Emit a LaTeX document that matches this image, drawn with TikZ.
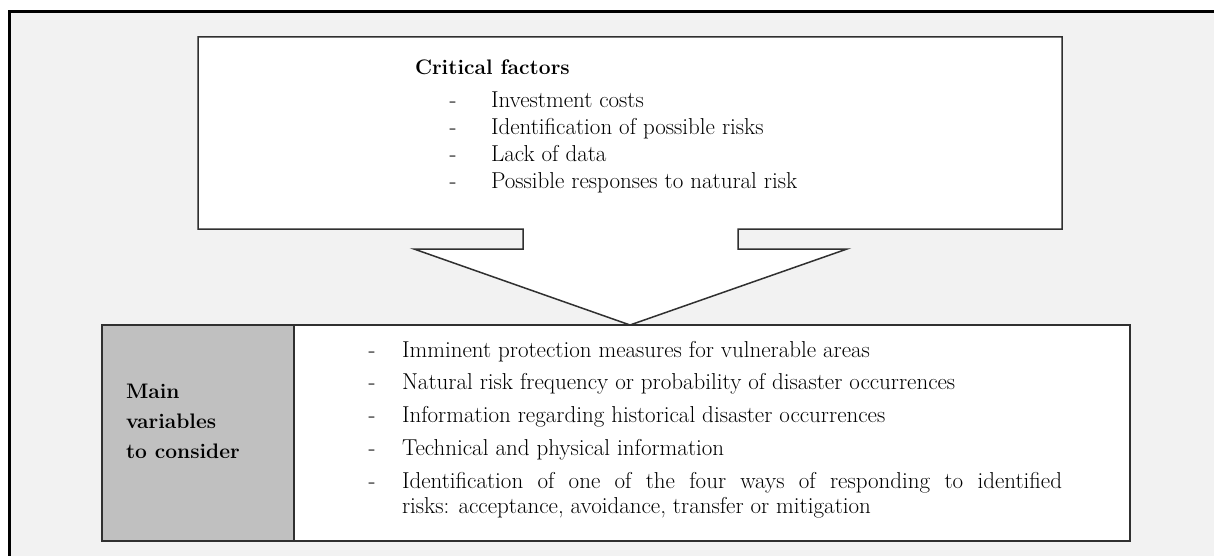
\documentclass[tikz,border=0pt]{standalone}
\usepackage{fontspec}
\definecolor{bgfill}{HTML}{F2F2F2}
\definecolor{colfill}{HTML}{C0C0C0}
\definecolor{edge}{HTML}{303030}
\tikzset{
  boxline/.style={draw=edge, line width=1.5pt, line join=miter},
  txt/.style={anchor=base west, inner sep=0pt, outer sep=0pt},
  headtxt/.style={anchor=base west, inner sep=0pt, outer sep=0pt, font=\fontsize{21}{26}\selectfont\bfseries},
  dashmark/.style={anchor=base, inner sep=0pt, outer sep=0pt},
}
\begin{document}
\begin{tikzpicture}[x=1pt,y=-1pt,font=\fontsize{23}{27}\selectfont]
\useasboundingbox (0,0) rectangle (1214,556);
\begin{scope}
\clip (0,0) rectangle (1214,556);
\fill[bgfill] (9,12) rectangle (1240,580);
\draw[line width=3pt, line join=miter] (9,590) -- (9,12) -- (1240,12);
\end{scope}
% top box with arrow
\coordinate (tip) at (630,325);
\draw[boxline, fill=white] (198,37) -- (1062,37) -- (1062,229) -- (738,229) -- (738,249)
  -- (847,249) -- (tip) -- (414,249) -- (523,249) -- (523,229) -- (198,229) -- cycle;
% bottom box
\fill[white] (102,325) rectangle (1130,541);
\fill[colfill] (102,325) rectangle (294,541);
\draw[boxline] (102,325) rectangle (1130,541);
\draw[boxline] (294,325) -- (294,541);
% top texts
\node[headtxt] (cf) at (415,75) {Critical factors};
\node[dashmark] (d1) at (453,108) {-};
\node[txt] (t1) at (491,108) {Investment costs};
\node[dashmark] (d2) at (453,135) {-};
\node[txt] (t2) at (491,135) {Identification of possible risks};
\node[dashmark] (d3) at (453,162) {-};
\node[txt] (t3) at (491,162) {Lack of data};
\node[dashmark] (d4) at (453,189) {-};
\node[txt] (t4) at (491,189) {Possible responses to natural risk};
% left column
\node[headtxt] (m1) at (126,398) {Main};
\node[headtxt] (m2) at (126,428) {variables};
\node[headtxt] (m3) at (126,458) {to consider};
% bottom items
\node[dashmark] (e1) at (372,357) {-};
\node[txt] (b1) at (402,357) {Imminent protection measures for vulnerable areas};
\node[dashmark] (e2) at (372,389) {-};
\node[txt] (b2) at (402,389) {Natural risk frequency or probability of disaster occurrences};
\node[dashmark] (e3) at (372,422) {-};
\node[txt] (b3) at (402,422) {Information regarding historical disaster occurrences};
\node[dashmark] (e4) at (372,455) {-};
\node[txt] (b4) at (402,455) {Technical and physical information};
\node[dashmark] (e5) at (372,488) {-};
\node[txt] (b5) at (402,488) {\makebox[660pt][s]{Identification of one of the four ways of responding to identified}};
\node[txt] (b6) at (402,513) {risks: acceptance, avoidance, transfer or mitigation};
\end{tikzpicture}
\end{document}
